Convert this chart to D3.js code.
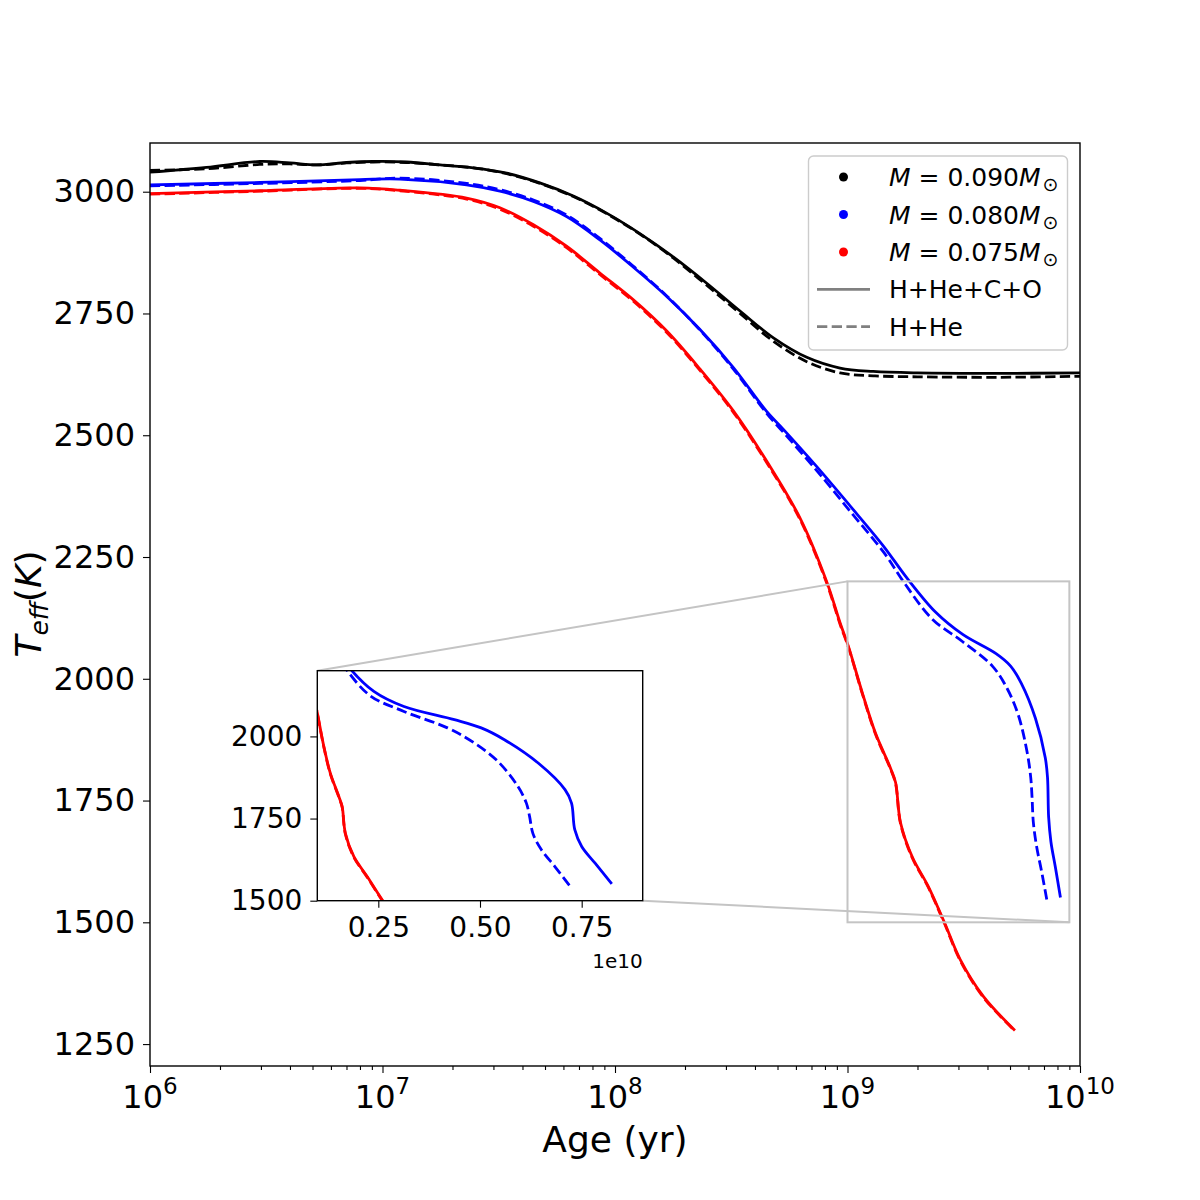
<!DOCTYPE html>
<html>
<head>
<meta charset="utf-8">
<style>
  body { margin:0; background:#fff; }
  svg text { font-family: "DejaVu Sans", sans-serif; fill:#000; }
  .axis .domain { display:none; }
  .axis line { stroke:#000; stroke-width:1.1; }
  .curve { fill:none; stroke-width:2.8; stroke-linejoin:round; }
</style>
</head>
<body>
<script src="https://d3js.org/d3.v7.min.js"></script>
<script>
var width = 1200, height = 1200;

// ---- data (age in yr, Teff in K) ----
var age090    = [1.0e6, 1.75e6, 2.97e6, 4.0e6, 5.21e6, 7.0e6, 9.12e6, 1.27e7, 1.77e7, 2.46e7, 3.42e7, 4.75e7, 6.62e7, 9.2e7, 1.28e8, 1.78e8, 2.48e8, 3.45e8, 4.8e8, 6.68e8, 9.29e8, 1.29e9, 2.0e9, 4.53e9, 1.0e10];
var teff090CO = [3040, 3050, 3062, 3059, 3055, 3060, 3062, 3061, 3055, 3049, 3038, 3018, 2991, 2956, 2914, 2866, 2812, 2755, 2700, 2660, 2638, 2631, 2628, 2627, 2628];
var teff090H  = [3044, 3047, 3056, 3057, 3055, 3059, 3061, 3060, 3055, 3049, 3037, 3017, 2990, 2955, 2913, 2864, 2808, 2750, 2693, 2651, 2628, 2622, 2620, 2619, 2621];

var age080CO  = [1.0e6, 2.97e6, 8.0e6, 1.19e7, 2.30e7, 3.20e7, 4.46e7, 6.19e7, 8.61e7, 1.20e8, 1.67e8, 2.32e8, 3.23e8, 4.49e8, 5.30e8, 7.36e8, 1.03e9, 1.43e9, 1.80e9, 2.39e9, 3.13e9, 4.37e9, 5.03e9, 5.60e9, 6.43e9, 7.09e9, 7.25e9, 7.33e9, 7.50e9, 7.83e9, 8.24e9];
var teff080CO = [3014, 3019, 3025, 3026, 3014, 3001, 2980, 2949, 2901, 2845, 2785, 2717, 2639, 2549, 2512, 2436, 2354, 2272, 2207, 2137, 2091, 2051, 2026, 1990, 1919, 1838, 1797, 1716, 1665, 1614, 1551];
var age080H   = [1.0e6, 2.97e6, 8.0e6, 1.19e7, 2.30e7, 3.20e7, 4.46e7, 6.19e7, 8.61e7, 1.20e8, 1.67e8, 2.32e8, 3.23e8, 4.49e8, 5.30e8, 7.36e8, 1.03e9, 1.43e9, 1.76e9, 2.31e9, 3.13e9, 4.20e9, 4.86e9, 5.44e9, 5.93e9, 6.14e9, 6.22e9, 6.30e9, 6.51e9, 6.84e9, 7.25e9];
var teff080H  = [3012, 3017, 3023, 3028, 3017, 3004, 2983, 2952, 2904, 2847, 2786, 2716, 2636, 2545, 2506, 2428, 2343, 2260, 2196, 2123, 2076, 2026, 1980, 1924, 1848, 1797, 1756, 1705, 1655, 1604, 1538];

var age075    = [1.0e6, 2.97e6, 8.0e6, 1.19e7, 2.30e7, 3.20e7, 4.46e7, 6.19e7, 8.61e7, 1.20e8, 1.67e8, 2.32e8, 3.23e8, 4.49e8, 6.25e8, 8.13e8, 9.29e8, 1.01e9, 1.16e9, 1.32e9, 1.53e9, 1.61e9, 1.69e9, 1.90e9, 2.23e9, 2.61e9, 3.05e9, 3.84e9, 5.25e9];
var teff075CO = [2996, 3002, 3008, 3003, 2987, 2967, 2932, 2888, 2833, 2778, 2714, 2636, 2550, 2447, 2330, 2200, 2115, 2066, 1970, 1888, 1817, 1787, 1705, 1634, 1573, 1500, 1424, 1348, 1278];
var teff075H  = [2995, 3001, 3007, 3002, 2985, 2964, 2929, 2885, 2830, 2775, 2711, 2633, 2547, 2444, 2327, 2197, 2112, 2064, 1968, 1886, 1815, 1785, 1703, 1632, 1571, 1498, 1422, 1346, 1277];

var massLabels  = ["0.090", "0.080", "0.075"];
var mixLabels   = ["H+He+C+O", "H+He"];
var yTicks      = [1250, 1500, 1750, 2000, 2250, 2500, 2750, 3000];
var xTicks      = [1e6, 1e7, 1e8, 1e9, 1e10];
var xTickExp    = ["6", "7", "8", "9", "10"];
var insetYTicks = [1500, 1750, 2000];
var insetXTicks = [2.5e9, 5.0e9, 7.5e9];

var colors = ["#000000", "#0000ff", "#ff0000"];
var dashPat = "10.3,4.4";

var series = [
  {age: age090,   teff: teff090CO, c: colors[0], dash: false},
  {age: age090,   teff: teff090H,  c: colors[0], dash: true},
  {age: age080CO, teff: teff080CO, c: colors[1], dash: false},
  {age: age080H,  teff: teff080H,  c: colors[1], dash: true},
  {age: age075,   teff: teff075CO, c: colors[2], dash: false},
  {age: age075,   teff: teff075H,  c: colors[2], dash: true}
];

var svg = d3.select("body").append("svg")
  .attr("width", width).attr("height", height);

// ---- main axes ----
var L = 150, R = 1080, T = 143, B = 1066;
var x = d3.scaleLog().domain([1e6, 1e10]).range([L, R]);
var y = d3.scaleLinear().domain([1205, 3100]).range([B, T]);

svg.append("clipPath").attr("id", "mainclip")
  .append("rect").attr("x", L).attr("y", T).attr("width", R - L).attr("height", B - T);

var mainLine = d3.line()
  .x(function(d){ return x(d[0]); })
  .y(function(d){ return y(d[1]); })
  .curve(d3.curveCatmullRom.alpha(0.5));

var gMain = svg.append("g").attr("clip-path", "url(#mainclip)");
series.forEach(function(s){
  var pts = s.age.map(function(a, i){ return [a, s.teff[i]]; });
  gMain.append("path").attr("class", "curve")
    .attr("d", mainLine(pts))
    .attr("stroke", s.c)
    .attr("stroke-dasharray", s.dash ? dashPat : null);
});

// y axis
var yAx = svg.append("g").attr("class", "axis")
  .attr("transform", "translate(" + L + ",0)")
  .call(d3.axisLeft(y).tickValues(yTicks).tickSize(7).tickPadding(8).tickFormat(d3.format("d")));
yAx.selectAll("text").attr("font-size", 32).attr("font-family", "DejaVu Sans");

// x axis major + minor
svg.append("g").attr("class", "axis")
  .attr("transform", "translate(0," + B + ")")
  .call(d3.axisBottom(x).tickValues(xTicks).tickSize(7).tickFormat(""));
var minor = [];
for (var e = 6; e < 10; e++) for (var k = 2; k < 10; k++) minor.push(k * Math.pow(10, e));
svg.append("g").attr("class", "axis")
  .attr("transform", "translate(0," + B + ")")
  .call(d3.axisBottom(x).tickValues(minor).tickSize(4).tickFormat(""));

xTicks.forEach(function(v, i){
  var t = svg.append("text").attr("x", x(v)).attr("y", 1108)
    .attr("text-anchor", "middle").attr("font-size", 32);
  t.append("tspan").text("10");
  t.append("tspan").attr("dy", -14).attr("font-size", 23).text(xTickExp[i]);
});

// frame
svg.append("rect").attr("x", L).attr("y", T).attr("width", R - L).attr("height", B - T)
  .attr("fill", "none").attr("stroke", "#000").attr("stroke-width", 1.4);

// axis titles
svg.append("text").attr("x", (L + R) / 2).attr("y", 1152)
  .attr("text-anchor", "middle").attr("font-size", 36).text("Age (yr)");
var yl = svg.append("text").attr("transform", "translate(41,604) rotate(-90)")
  .attr("text-anchor", "middle").attr("font-size", 36);
yl.append("tspan").attr("font-style", "italic").text("T");
yl.append("tspan").attr("font-style", "italic").attr("font-size", 25).attr("dy", 7).text("eff");
yl.append("tspan").attr("dy", -7).text("(");
yl.append("tspan").attr("font-style", "italic").text("K");
yl.append("tspan").text(")");

// ---- inset ----
var iL = 317.3, iR = 642.7, iT = 670.7, iB = 900.7;
var xi = d3.scaleLinear().domain([1e9, 9e9]).range([iL, iR]);
var yi = d3.scaleLinear().domain([1500, 2200]).range([iB, iT]);

// zoom box on main axes + connectors
var zc = "#c4c4c4";
svg.append("rect")
  .attr("x", x(1e9)).attr("y", y(2200))
  .attr("width", x(9e9) - x(1e9)).attr("height", y(1500) - y(2200))
  .attr("fill", "none").attr("stroke", zc).attr("stroke-width", 2);
svg.append("line").attr("x1", iL).attr("y1", iT).attr("x2", x(1e9)).attr("y2", y(2200))
  .attr("stroke", zc).attr("stroke-width", 2);
svg.append("line").attr("x1", iR).attr("y1", iB).attr("x2", x(9e9)).attr("y2", y(1500))
  .attr("stroke", zc).attr("stroke-width", 2);

svg.append("rect").attr("x", iL).attr("y", iT).attr("width", iR - iL).attr("height", iB - iT)
  .attr("fill", "#fff");

svg.append("clipPath").attr("id", "insetclip")
  .append("rect").attr("x", iL).attr("y", iT).attr("width", iR - iL).attr("height", iB - iT);

var insetLine = d3.line()
  .x(function(d){ return xi(d[0]); })
  .y(function(d){ return yi(d[1]); })
  .curve(d3.curveCatmullRom.alpha(0.5));

var gIn = svg.append("g").attr("clip-path", "url(#insetclip)");
series.forEach(function(s){
  var pts = s.age.map(function(a, i){ return [a, s.teff[i]]; })
    .filter(function(d){ return d[0] >= 5e8; });
  gIn.append("path").attr("class", "curve")
    .attr("d", insetLine(pts))
    .attr("stroke", s.c)
    .attr("stroke-dasharray", s.dash ? dashPat : null);
});

var iyAx = svg.append("g").attr("class", "axis")
  .attr("transform", "translate(" + iL + ",0)")
  .call(d3.axisLeft(yi).tickValues(insetYTicks).tickSize(7).tickPadding(8).tickFormat(d3.format("d")));
iyAx.selectAll("text").attr("font-size", 28).attr("font-family", "DejaVu Sans");
var ixAx = svg.append("g").attr("class", "axis")
  .attr("transform", "translate(0," + iB + ")")
  .call(d3.axisBottom(xi).tickValues(insetXTicks).tickSize(7).tickPadding(9)
    .tickFormat(function(d){ return (d / 1e10).toFixed(2); }));
ixAx.selectAll("text").attr("font-size", 28).attr("font-family", "DejaVu Sans");
svg.append("text").attr("x", iR).attr("y", 968).attr("text-anchor", "end")
  .attr("font-size", 20).text("1e10");

svg.append("rect").attr("x", iL).attr("y", iT).attr("width", iR - iL).attr("height", iB - iT)
  .attr("fill", "none").attr("stroke", "#000").attr("stroke-width", 1.4);

// ---- legend ----
var lg = svg.append("g");
lg.append("rect").attr("x", 808.5).attr("y", 156).attr("width", 259).attr("height", 194)
  .attr("rx", 5).attr("fill", "#fff").attr("fill-opacity", 0.8)
  .attr("stroke", "#cccccc").attr("stroke-width", 1.4);

var rowY = [186, 223.5, 261, 298.3, 335.7];
massLabels.forEach(function(m, i){
  lg.append("circle").attr("cx", 843.5).attr("cy", rowY[i] - 9).attr("r", 4.5).attr("fill", colors[i]);
  var t = lg.append("text").attr("x", 889).attr("y", rowY[i]).attr("font-size", 25);
  t.append("tspan").attr("font-style", "italic").text("M");
  t.append("tspan").text(" = " + m);
  t.append("tspan").attr("font-style", "italic").text("M");
  t.append("tspan").attr("font-size", 19).attr("dx", 2).attr("dy", 5).text("\u2299");
});
mixLabels.forEach(function(m, j){
  var yy = rowY[3 + j];
  lg.append("line").attr("x1", 817).attr("x2", 870).attr("y1", yy - 9).attr("y2", yy - 9)
    .attr("stroke", "#808080").attr("stroke-width", 2.8)
    .attr("stroke-dasharray", j === 1 ? dashPat : null);
  lg.append("text").attr("x", 889).attr("y", yy).attr("font-size", 25).text(m);
});
</script>
</body>
</html>
